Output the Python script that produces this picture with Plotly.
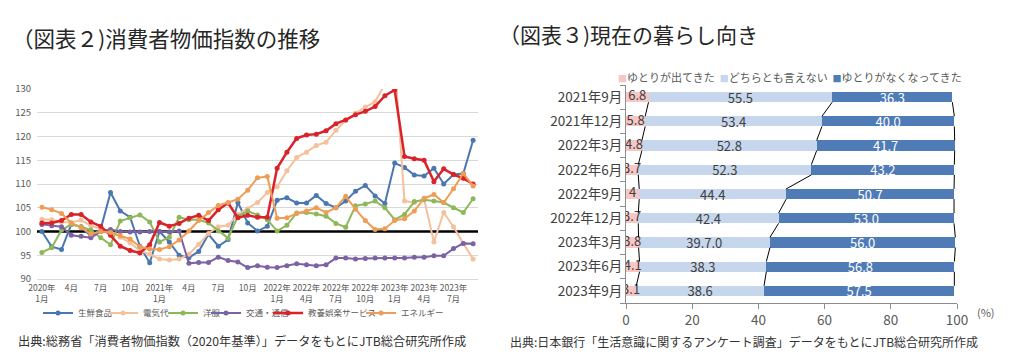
import plotly.graph_objects as go

FONT = "Noto Sans CJK JP"
W, H = 1012, 357

# ---------------- Left chart data (2020年1月 .. 2023年9月, monthly) ----------------
month_index = list(range(45))
x_tick_pos = [0, 3, 6, 9, 12, 15, 18, 21, 24, 27, 30, 33, 36, 39, 42]
x_tick_labels = ["2020年<br>1月", "4月", "7月", "10月", "2021年<br>1月", "4月", "7月", "10月",
                 "2022年<br>1月", "2022年<br>4月", "2022年<br>7月", "2022年<br>10月",
                 "2023年<br>1月", "2023年<br>4月", "2023年<br>7月"]

fresh_food = [100.0, 96.8, 96.2, 101.5, 101.0, 99.0, 100.5, 108.2, 104.3, 103.0, 96.9, 93.4,
              100.0, 97.8, 95.0, 94.5, 95.8, 99.4, 96.9, 98.3, 106.1, 101.8, 100.1, 101.1,
              106.6, 107.1, 106.0, 106.0, 107.6, 105.9, 105.0, 106.4, 108.5, 109.7, 107.5, 105.9,
              114.4, 113.5, 111.9, 111.7, 113.3, 110.0, 112.0, 112.2, 119.2]
electricity = [102.6, 102.5, 102.0, 101.9, 102.4, 101.2, 100.5, 100.1, 98.8, 97.6, 96.0, 95.2,
               94.2, 94.0, 94.2, 95.2, 97.3, 99.6, 101.0, 101.3, 103.6, 104.8, 106.1, 108.2,
               109.4, 112.8, 115.6, 116.7, 118.1, 118.8, 121.3, 123.4, 124.9, 126.2, 127.3, 131.0,
               136.0, 106.4, 106.1, 106.8, 97.8, 104.0, 101.0, 97.5, 94.2]
clothes = [95.6, 96.6, 100.3, 101.5, 101.0, 100.3, 98.7, 97.2, 102.2, 102.9, 103.5, 102.0,
           97.8, 98.8, 103.0, 102.5, 102.5, 101.8, 100.1, 98.6, 103.2, 104.3, 103.5, 102.5,
           100.1, 101.3, 103.9, 104.0, 103.7, 103.2, 101.7, 100.9, 105.4, 105.8, 106.4, 105.0,
           102.5, 103.6, 106.3, 106.7, 106.4, 106.1, 105.0, 104.0, 106.9]
transport = [101.5, 101.2, 101.0, 99.2, 99.0, 98.7, 100.0, 100.4, 100.0, 99.9, 99.9, 100.0,
             100.0, 99.9, 100.1, 93.3, 93.5, 93.5, 94.6, 93.9, 93.6, 92.4, 92.8, 92.5,
             92.4, 92.8, 93.2, 93.0, 92.8, 93.0, 94.4, 94.4, 94.2, 94.3, 94.4, 94.4,
             94.4, 94.4, 94.6, 94.6, 94.9, 94.9, 96.4, 97.5, 97.4]
culture = [101.8, 101.8, 102.3, 103.6, 103.6, 102.0, 101.1, 99.2, 96.9, 96.0, 95.5, 97.2,
           101.9, 101.1, 101.7, 102.8, 103.4, 102.3, 104.6, 106.0, 102.9, 103.4, 103.0, 103.0,
           113.3, 116.7, 119.6, 120.3, 120.5, 121.2, 122.7, 123.5, 124.6, 125.3, 126.3, 128.6,
           129.8, 115.8, 115.3, 115.0, 110.5, 113.2, 112.0, 111.2, 110.0]
energy = [105.1, 104.6, 103.8, 101.8, 100.8, 99.5, 100.0, 99.8, 99.1, 98.4, 96.8, 96.3,
          96.2, 96.8, 98.2, 100.1, 102.3, 104.0, 105.5, 106.1, 106.8, 108.7, 111.3, 111.6,
          102.8, 102.9, 103.8, 104.3, 105.0, 104.0, 105.0, 107.4, 104.7, 102.3, 100.4, 100.6,
          102.3, 102.7, 104.3, 107.0, 107.8, 106.1, 109.0, 112.2, 109.6]

series_names = ["生鮮食品", "電気代", "洋服", "交通・通信", "教養娯楽サービス", "エネルギー"]
series_values = [fresh_food, electricity, clothes, transport, culture, energy]
series_colors = ["#4A77B0", "#F5C09C", "#8DB85A", "#7A62A4", "#D9222A", "#EE9D56"]
series_widths = [2, 2, 2, 2, 2.5, 2]
legend_text_left_px = [80, 145, 205, 248, 310, 403]   # where each legend entry's text begins
baseline_value = 100
X_RANGE = [-0.5, 44.5]
Y_RANGE = [90, 130]

# ---------------- Right chart data ----------------
survey_dates = ["2021年9月", "2021年12月", "2022年3月", "2022年6月", "2022年9月",
                "2022年12月", "2023年3月", "2023年6月", "2023年9月"]
more_room = [6.8, 5.8, 4.8, 3.7, 4.0, 3.7, 3.8, 4.1, 3.1]
neither = [55.5, 53.4, 52.8, 52.3, 44.4, 42.4, 39.7, 38.3, 38.6]
less_room = [36.3, 40.0, 41.7, 43.2, 50.7, 53.0, 56.0, 56.8, 57.5]
more_room_text = ["6.8", "5.8", "4.8", "3.7", "4", "3.7", "3.8", "4.1", "3.1"]
neither_text = ["55.5", "53.4", "52.8", "52.3", "44.4", "42.4", "39.7.0", "38.3", "38.6"]
less_room_text = ["36.3", "40.0", "41.7", "43.2", "50.7", "53.0", "56.0", "56.8", "57.5"]
bar_names = ["ゆとりが出てきた", "どちらとも言えない", "ゆとりがなくなってきた"]
bar_colors = ["#F8C6C5", "#C6D6EC", "#4F7BB6"]
bar_text_colors = ["#404040", "#404040", "#FFFFFF"]
BAR_W = 0.42

fig = go.Figure()

# baseline at 100 (drawn first, below series)
fig.add_trace(go.Scatter(x=X_RANGE, y=[baseline_value, baseline_value], mode="lines",
                         line=dict(color="black", width=2.5), showlegend=False,
                         hoverinfo="skip", xaxis="x", yaxis="y"))

legend_ids = ["legend"] + [f"legend{k}" for k in range(2, len(series_names) + 1)]
for name, vals, col, lw, lg in zip(series_names, series_values, series_colors,
                                   series_widths, legend_ids):
    fig.add_trace(go.Scatter(x=month_index, y=vals, mode="lines+markers", name=name,
                             line=dict(color=col, width=lw),
                             marker=dict(color=col, size=5),
                             xaxis="x", yaxis="y", legend=lg))

# right chart bars
idx = list(range(len(survey_dates)))
for j, (name, vals, txt, col, tcol) in enumerate(zip(
        bar_names, [more_room, neither, less_room],
        [more_room_text, neither_text, less_room_text], bar_colors, bar_text_colors)):
    fig.add_trace(go.Bar(y=idx, x=vals, orientation="h", name=name, width=BAR_W,
                         marker=dict(color=col, line=dict(width=0)),
                         text=None if j == 0 else txt,
                         textposition="none" if j == 0 else "inside",
                         insidetextanchor="middle",
                         textangle=0, constraintext="none",
                         textfont=dict(color=tcol, size=13, family=FONT),
                         showlegend=False, xaxis="x2", yaxis="y2"))

# labels of the thin first segment, drawn on top so they may overflow the segment
fig.add_trace(go.Scatter(x=[v / 2 for v in more_room], y=idx, mode="text",
                         text=more_room_text,
                         textfont=dict(color=bar_text_colors[0], size=13, family=FONT),
                         showlegend=False, hoverinfo="skip", xaxis="x2", yaxis="y2"))

# series lines connecting segment boundaries
c1 = more_room
c2 = [a + b for a, b in zip(more_room, neither)]
c3 = [a + b + c for a, b, c in zip(more_room, neither, less_room)]
sx, sy = [], []
for cum in (c1, c2, c3):
    for k in range(len(idx) - 1):
        sx += [cum[k], cum[k + 1], None]
        sy += [idx[k] + BAR_W / 2, idx[k + 1] - BAR_W / 2, None]
fig.add_trace(go.Scatter(x=sx, y=sy, mode="lines", line=dict(color="black", width=1),
                         showlegend=False, hoverinfo="skip", xaxis="x2", yaxis="y2"))

def px_x(p):
    return p / W

def px_y(p):
    return 1 - p / H

fig.update_layout(
    width=W, height=H, margin=dict(l=0, r=0, t=0, b=0, autoexpand=False),
    paper_bgcolor="white", plot_bgcolor="white",
    font=dict(family=FONT, color="#404040"),
    barmode="stack",
    xaxis=dict(domain=[px_x(37), px_x(478)], range=X_RANGE, tickmode="array",
               tickvals=x_tick_pos, ticktext=x_tick_labels, showgrid=False, tickangle=0,
               zeroline=False, showline=True, linecolor="#D9D9D9", ticks="",
               ticklabelstandoff=1,
               tickfont=dict(size=8.5, color="#595959"), anchor="y", automargin=False),
    yaxis=dict(domain=[px_y(279), px_y(89)], range=Y_RANGE, dtick=5, tick0=90,
               showgrid=True, gridcolor="#D9D9D9", gridwidth=1, zeroline=False,
               ticks="", ticklabelstandoff=5,
               tickfont=dict(size=9.5, color="#595959"), anchor="x",
               automargin=False),
    xaxis2=dict(domain=[px_x(626), px_x(957)], range=[0, 100], dtick=20, tick0=0,
                showgrid=False, zeroline=False, showline=True, linecolor="#8C8C8C",
                ticks="outside", ticklen=5, tickcolor="#8C8C8C", tickangle=0,
                tickfont=dict(size=13.5, color="#595959"), anchor="y2", automargin=False),
    yaxis2=dict(domain=[px_y(303), px_y(85)], range=[len(idx) - 0.5, -0.5],
                tickmode="array", tickvals=idx, ticktext=survey_dates, ticks="",
                showgrid=False, zeroline=False, showline=True, linecolor="#8C8C8C",
                tickfont=dict(size=13.5, color="#404040"), anchor="x2", automargin=False,
                minor=dict(tickmode="array", tickvals=[k - 0.5 for k in range(len(idx) + 1)],
                           ticks="outside", ticklen=5, tickcolor="#8C8C8C", showgrid=False)),
    showlegend=True,
)

legend_layout = {}
for lg, tx in zip(legend_ids, legend_text_left_px):
    legend_layout[lg] = dict(orientation="h", x=px_x(tx - 42), xanchor="left",
                             y=px_y(313), yanchor="middle",
                             font=dict(size=8.5, color="#595959"),
                             bgcolor="rgba(0,0,0,0)", itemwidth=30, borderwidth=0)
fig.update_layout(**legend_layout)

legend_txt = "  ".join(
    f"<span style='color:{c};font-size:9px'>■</span>{n}" for c, n in zip(bar_colors, bar_names))

annotations = [
    dict(text="（図表２)消費者物価指数の推移", x=px_x(10), y=px_y(38), xanchor="left",
         yanchor="middle", font=dict(size=21.5, color="#262626")),
    dict(text="（図表３)現在の暮らし向き", x=px_x(497), y=px_y(34), xanchor="left",
         yanchor="middle", font=dict(size=21, color="#262626")),
    dict(text="出典:総務省「消費者物価指数（2020年基準）」データをもとにJTB総合研究所作成",
         x=px_x(16), y=px_y(341), xanchor="left", yanchor="middle",
         font=dict(size=12.2, color="#333333")),
    dict(text="出典:日本銀行「生活意識に関するアンケート調査」データをもとにJTB総合研究所作成",
         x=px_x(508), y=px_y(341), xanchor="left", yanchor="middle",
         font=dict(size=12, color="#333333")),
    dict(text=legend_txt, x=px_x(616), y=px_y(77), xanchor="left", yanchor="middle",
         font=dict(size=11, color="#595959")),
    dict(text="(%)", x=px_x(975), y=px_y(312), xanchor="left", yanchor="middle",
         font=dict(size=11, color="#595959")),
]
for a in annotations:
    a.update(xref="paper", yref="paper", showarrow=False)
fig.update_layout(annotations=annotations)

fig.write_html("out.html", config={"displayModeBar": False},
               post_script="document.body.style.margin='0px';")
